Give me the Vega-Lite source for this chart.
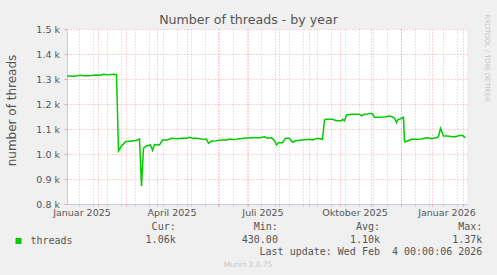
{
  "$schema": "https://vega.github.io/schema/vega-lite/v6.json",
  "width": 400,
  "height": 175,
  "autosize": "none",
  "padding": {"left": 67, "top": 29, "right": 30, "bottom": 71},
  "background": "#f0f0f0",
  "config": {
    "view": {"stroke": null, "fill": "#ffffff"},
    "font": "DejaVu Sans",
    "axis": {"labelFont": "DejaVu Sans", "titleFont": "DejaVu Sans"}
  },
  "title": {
    "text": "Number of threads - by year",
    "anchor": "middle",
    "frame": "group",
    "dx": -18.5,
    "dy": 17,
    "offset": 4,
    "fontSize": 12.6,
    "font": "DejaVu Sans",
    "fontWeight": "normal",
    "color": "#555555"
  },
  "resolve": {
    "scale": {"x": "independent", "y": "independent"},
    "axis": {"x": "independent", "y": "independent"}
  },
  "layer": [
    {
      "mark": {"type": "rule", "color": "#c8c8f8", "strokeWidth": 1, "yOffset": -4},
      "encoding": {
        "x": {
          "datum": {"year": 2025, "month": 1, "date": 1, "hours": 12},
          "type": "temporal",
          "scale": {"domain": [{"year": 2025, "month": 1, "date": 1, "hours": 12}, {"year": 2026, "month": 2, "date": 5, "hours": 12}]},
          "axis": {
            "orient": "bottom",
            "values": [
              {"year": 2025, "month": 1, "date": 13}, {"year": 2025, "month": 1, "date": 27},
              {"year": 2025, "month": 2, "date": 10}, {"year": 2025, "month": 2, "date": 24},
              {"year": 2025, "month": 3, "date": 10}, {"year": 2025, "month": 3, "date": 24},
              {"year": 2025, "month": 4, "date": 7}, {"year": 2025, "month": 4, "date": 21},
              {"year": 2025, "month": 5, "date": 5}, {"year": 2025, "month": 5, "date": 19},
              {"year": 2025, "month": 6, "date": 2}, {"year": 2025, "month": 6, "date": 16},
              {"year": 2025, "month": 6, "date": 30}, {"year": 2025, "month": 7, "date": 14},
              {"year": 2025, "month": 7, "date": 28}, {"year": 2025, "month": 8, "date": 11},
              {"year": 2025, "month": 8, "date": 25}, {"year": 2025, "month": 9, "date": 8},
              {"year": 2025, "month": 9, "date": 22}, {"year": 2025, "month": 10, "date": 6},
              {"year": 2025, "month": 10, "date": 20}, {"year": 2025, "month": 11, "date": 3},
              {"year": 2025, "month": 11, "date": 17}, {"year": 2025, "month": 12, "date": 1},
              {"year": 2025, "month": 12, "date": 15}, {"year": 2025, "month": 12, "date": 29},
              {"year": 2026, "month": 1, "date": 12}, {"year": 2026, "month": 1, "date": 26}
            ],
            "grid": true,
            "gridColor": "#909090",
            "gridOpacity": 0.45,
            "gridDash": [1, 2],
            "ticks": true,
            "tickColor": "#cccccc",
            "tickSize": 2,
            "labels": false,
            "domain": false,
            "title": "Munin 2.0.75",
            "titleFontSize": 7.4,
            "titleFontWeight": "normal",
            "titleColor": "#c8c8c8",
            "titleX": 180.5,
            "titleY": 60.3,
            "titleAlign": "center",
            "titleBaseline": "middle",
            "titleAnchor": null
          }
        },
        "y": {"datum": 1500, "type": "quantitative", "scale": {"domain": [800, 1500], "nice": false, "zero": false}, "axis": null},
        "y2": {"datum": 1500}
      }
    },
    {
      "mark": {"type": "point", "shape": "triangle-up", "filled": true, "color": "#c8c8f8", "opacity": 1, "size": 22, "yOffset": -5},
      "encoding": {
        "x": {
          "datum": {"year": 2025, "month": 1, "date": 1, "hours": 12},
          "type": "temporal",
          "scale": {"domain": [{"year": 2025, "month": 1, "date": 1, "hours": 12}, {"year": 2026, "month": 2, "date": 5, "hours": 12}]},
          "axis": {
            "orient": "bottom",
            "values": [
              {"year": 2025, "month": 2, "date": 1}, {"year": 2025, "month": 3, "date": 1},
              {"year": 2025, "month": 4, "date": 1}, {"year": 2025, "month": 5, "date": 1},
              {"year": 2025, "month": 6, "date": 1}, {"year": 2025, "month": 7, "date": 1},
              {"year": 2025, "month": 8, "date": 1}, {"year": 2025, "month": 9, "date": 1},
              {"year": 2025, "month": 10, "date": 1}, {"year": 2025, "month": 11, "date": 1},
              {"year": 2025, "month": 12, "date": 1}, {"year": 2026, "month": 1, "date": 1},
              {"year": 2026, "month": 2, "date": 1}
            ],
            "grid": true,
            "gridColor": "#ff0000",
            "gridOpacity": 0.35,
            "gridDash": [1, 2],
            "ticks": true,
            "tickColor": "#f0a0a0",
            "tickSize": 2,
            "labels": false,
            "domain": false,
            "title": null
          }
        },
        "y": {
          "datum": 1500,
          "type": "quantitative",
          "scale": {"domain": [800, 1500], "nice": false, "zero": false},
          "axis": {
            "orient": "right",
            "labels": false,
            "ticks": false,
            "domain": false,
            "grid": false,
            "title": "RRDTOOL / TOBI OETIKER",
            "titleFontSize": 6.8,
            "titleFontWeight": "normal",
            "titleColor": "#c4c4c4",
            "titleAngle": 90,
            "titleX": 19.7,
            "titleY": 28.5,
            "titleAlign": "center",
            "titleBaseline": "middle",
            "titleAnchor": null
          }
        }
      }
    },
    {
      "mark": {"type": "rule", "color": "#c8c8f8", "strokeWidth": 1, "x2Offset": 3},
      "encoding": {
        "x": {
          "datum": {"year": 2026, "month": 2, "date": 5, "hours": 12},
          "type": "temporal",
          "scale": {"domain": [{"year": 2025, "month": 1, "date": 1, "hours": 12}, {"year": 2026, "month": 2, "date": 5, "hours": 12}]},
          "axis": null
        },
        "x2": {"datum": {"year": 2026, "month": 2, "date": 5, "hours": 12}},
        "y": {"datum": 800, "type": "quantitative", "scale": {"domain": [800, 1500], "nice": false, "zero": false}, "axis": null}
      }
    },
    {
      "mark": {"type": "point", "shape": "triangle-right", "filled": true, "color": "#c8c8f8", "opacity": 1, "size": 22, "xOffset": 4},
      "encoding": {
        "x": {
          "datum": {"year": 2026, "month": 2, "date": 5, "hours": 12},
          "type": "temporal",
          "scale": {"domain": [{"year": 2025, "month": 1, "date": 1, "hours": 12}, {"year": 2026, "month": 2, "date": 5, "hours": 12}]},
          "axis": null
        },
        "y": {"datum": 800, "type": "quantitative", "scale": {"domain": [800, 1500], "nice": false, "zero": false}, "axis": null}
      }
    },
    {
      "data": {
        "values": [
          {"date": "2025-01-01", "threads": 1312},
          {"date": "2025-01-08", "threads": 1311},
          {"date": "2025-01-15", "threads": 1315},
          {"date": "2025-01-18", "threads": 1313},
          {"date": "2025-01-24", "threads": 1313},
          {"date": "2025-01-28", "threads": 1315},
          {"date": "2025-01-31", "threads": 1316},
          {"date": "2025-02-04", "threads": 1315},
          {"date": "2025-02-07", "threads": 1319},
          {"date": "2025-02-11", "threads": 1317},
          {"date": "2025-02-15", "threads": 1318},
          {"date": "2025-02-18", "threads": 1319},
          {"date": "2025-02-20", "threads": 1317},
          {"date": "2025-02-22", "threads": 1012},
          {"date": "2025-02-25", "threads": 1032},
          {"date": "2025-03-01", "threads": 1049},
          {"date": "2025-03-07", "threads": 1052},
          {"date": "2025-03-12", "threads": 1054},
          {"date": "2025-03-15", "threads": 1060},
          {"date": "2025-03-17", "threads": 872},
          {"date": "2025-03-19", "threads": 1023},
          {"date": "2025-03-22", "threads": 1032},
          {"date": "2025-03-26", "threads": 1036},
          {"date": "2025-03-28", "threads": 1015},
          {"date": "2025-03-30", "threads": 1038},
          {"date": "2025-04-04", "threads": 1036},
          {"date": "2025-04-07", "threads": 1056},
          {"date": "2025-04-12", "threads": 1056},
          {"date": "2025-04-16", "threads": 1063},
          {"date": "2025-04-21", "threads": 1061},
          {"date": "2025-04-26", "threads": 1063},
          {"date": "2025-05-01", "threads": 1063},
          {"date": "2025-05-04", "threads": 1067},
          {"date": "2025-05-07", "threads": 1063},
          {"date": "2025-05-11", "threads": 1063},
          {"date": "2025-05-16", "threads": 1060},
          {"date": "2025-05-21", "threads": 1059},
          {"date": "2025-05-23", "threads": 1043},
          {"date": "2025-05-26", "threads": 1052},
          {"date": "2025-05-31", "threads": 1053},
          {"date": "2025-06-05", "threads": 1056},
          {"date": "2025-06-10", "threads": 1056},
          {"date": "2025-06-13", "threads": 1060},
          {"date": "2025-06-16", "threads": 1058},
          {"date": "2025-06-20", "threads": 1059},
          {"date": "2025-06-23", "threads": 1061},
          {"date": "2025-06-30", "threads": 1064},
          {"date": "2025-07-07", "threads": 1065},
          {"date": "2025-07-13", "threads": 1065},
          {"date": "2025-07-18", "threads": 1069},
          {"date": "2025-07-21", "threads": 1063},
          {"date": "2025-07-25", "threads": 1065},
          {"date": "2025-07-28", "threads": 1053},
          {"date": "2025-07-30", "threads": 1036},
          {"date": "2025-08-01", "threads": 1045},
          {"date": "2025-08-05", "threads": 1045},
          {"date": "2025-08-08", "threads": 1063},
          {"date": "2025-08-12", "threads": 1063},
          {"date": "2025-08-15", "threads": 1047},
          {"date": "2025-08-18", "threads": 1053},
          {"date": "2025-08-25", "threads": 1056},
          {"date": "2025-09-01", "threads": 1059},
          {"date": "2025-09-04", "threads": 1056},
          {"date": "2025-09-09", "threads": 1063},
          {"date": "2025-09-14", "threads": 1059},
          {"date": "2025-09-16", "threads": 1136},
          {"date": "2025-09-17", "threads": 1139},
          {"date": "2025-09-21", "threads": 1139},
          {"date": "2025-09-24", "threads": 1139},
          {"date": "2025-09-28", "threads": 1133},
          {"date": "2025-10-03", "threads": 1133},
          {"date": "2025-10-04", "threads": 1139},
          {"date": "2025-10-06", "threads": 1133},
          {"date": "2025-10-08", "threads": 1156},
          {"date": "2025-10-13", "threads": 1159},
          {"date": "2025-10-21", "threads": 1159},
          {"date": "2025-10-23", "threads": 1153},
          {"date": "2025-10-26", "threads": 1159},
          {"date": "2025-10-29", "threads": 1160},
          {"date": "2025-11-02", "threads": 1163},
          {"date": "2025-11-03", "threads": 1159},
          {"date": "2025-11-05", "threads": 1147},
          {"date": "2025-11-10", "threads": 1147},
          {"date": "2025-11-15", "threads": 1148},
          {"date": "2025-11-20", "threads": 1152},
          {"date": "2025-11-23", "threads": 1148},
          {"date": "2025-11-25", "threads": 1143},
          {"date": "2025-11-27", "threads": 1125},
          {"date": "2025-11-28", "threads": 1136},
          {"date": "2025-12-02", "threads": 1143},
          {"date": "2025-12-04", "threads": 1147},
          {"date": "2025-12-05", "threads": 1049},
          {"date": "2025-12-06", "threads": 1049},
          {"date": "2025-12-08", "threads": 1052},
          {"date": "2025-12-12", "threads": 1059},
          {"date": "2025-12-17", "threads": 1059},
          {"date": "2025-12-22", "threads": 1060},
          {"date": "2025-12-25", "threads": 1063},
          {"date": "2025-12-28", "threads": 1065},
          {"date": "2026-01-01", "threads": 1061},
          {"date": "2026-01-06", "threads": 1065},
          {"date": "2026-01-08", "threads": 1069},
          {"date": "2026-01-10", "threads": 1103},
          {"date": "2026-01-12", "threads": 1083},
          {"date": "2026-01-13", "threads": 1072},
          {"date": "2026-01-17", "threads": 1072},
          {"date": "2026-01-22", "threads": 1069},
          {"date": "2026-01-25", "threads": 1069},
          {"date": "2026-01-28", "threads": 1073},
          {"date": "2026-02-01", "threads": 1075},
          {"date": "2026-02-03", "threads": 1067},
          {"date": "2026-02-04", "threads": 1067}
        ]
      },
      "mark": {"type": "line", "strokeWidth": 1.5, "clip": true, "interpolate": "linear"},
      "encoding": {
        "x": {
          "field": "date",
          "type": "temporal",
          "scale": {"domain": [{"year": 2025, "month": 1, "date": 1, "hours": 12}, {"year": 2026, "month": 2, "date": 5, "hours": 12}]},
          "axis": {
            "orient": "bottom",
            "values": [
              {"year": 2025, "month": 1, "date": 16}, {"year": 2025, "month": 4, "date": 16},
              {"year": 2025, "month": 7, "date": 16}, {"year": 2025, "month": 10, "date": 16},
              {"year": 2026, "month": 1, "date": 16}
            ],
            "labelExpr": "['Januar','Februar','März','April','Mai','Juni','Juli','August','September','Oktober','November','Dezember'][month(datum.value)] + ' ' + year(datum.value)",
            "labelFontSize": 9.5,
            "labelColor": "#555555",
            "labelPadding": 3,
            "labelFlush": false,
            "labelOverlap": false,
            "ticks": false,
            "grid": false,
            "domain": true,
            "domainColor": "#c8c8f8",
            "domainWidth": 1,
            "title": null
          }
        },
        "y": {
          "field": "threads",
          "type": "quantitative",
          "scale": {"domain": [800, 1500], "nice": false, "zero": false},
          "axis": {
            "values": [800, 900, 1000, 1100, 1200, 1300, 1400, 1500],
            "labelExpr": "format(datum.value / 1000, '.1f') + ' k'",
            "labelFontSize": 9.5,
            "labelColor": "#555555",
            "labelPadding": 4.5,
            "labelFlush": false,
            "labelOverlap": false,
            "ticks": true,
            "tickSize": 3,
            "tickColor": "#f0a0a0",
            "grid": true,
            "gridColor": "#ff0000",
            "gridOpacity": 0.35,
            "gridDash": [1, 2],
            "domain": true,
            "domainColor": "#c8c8f8",
            "domainWidth": 1,
            "title": "number of threads",
            "titleFontSize": 12,
            "titleFontWeight": "normal",
            "titleColor": "#555555",
            "titleAngle": -90,
            "titleX": -56,
            "titleY": 81,
            "titleAlign": "center",
            "titleBaseline": "middle",
            "titleAnchor": null
          }
        },
        "color": {
          "datum": "threads",
          "type": "nominal",
          "scale": {"range": ["#00cc00"]},
          "legend": {
            "orient": "none",
            "legendX": -53.5,
            "legendY": 207,
            "padding": 0,
            "title": null,
            "symbolType": "square",
            "symbolSize": 36,
            "labelFont": "DejaVu Sans Mono",
            "labelFontSize": 10,
            "labelColor": "#555555",
            "labelOffset": 7,
            "encode": {"symbols": {"update": {"fill": {"value": "#00cc00"}, "stroke": {"value": "transparent"}, "strokeWidth": {"value": 0}, "opacity": {"value": 1}}}}
          }
        }
      }
    },
    {
      "data": {
        "values": [
          {"column": 1, "line": 0, "label": "Cur:\u00a0\u00a0"},
          {"column": 2, "line": 0, "label": "Min:\u00a0\u00a0"},
          {"column": 3, "line": 0, "label": "Avg:\u00a0\u00a0"},
          {"column": 4, "line": 0, "label": "Max:\u00a0\u00a0"},
          {"column": 1, "line": 1, "label": "1.06k"},
          {"column": 2, "line": 1, "label": "430.00\u00a0"},
          {"column": 3, "line": 1, "label": "1.10k"},
          {"column": 4, "line": 1, "label": "1.37k"},
          {"column": 4, "line": 2, "label": "Last update: Wed Feb\u00a0 4 00:00:06 2026"}
        ]
      },
      "mark": {"type": "text", "align": "right", "baseline": "middle", "font": "DejaVu Sans Mono", "fontSize": 10, "color": "#555555"},
      "encoding": {
        "x": {"field": "column", "type": "quantitative", "scale": {"domain": [1, 4], "range": [108.7, 415.3], "nice": false, "zero": false}, "axis": null},
        "y": {"field": "line", "type": "quantitative", "scale": {"domain": [0, 2], "range": [198.3, 222.9], "nice": false, "zero": false}, "axis": null},
        "text": {"field": "label"}
      }
    }
  ]
}
